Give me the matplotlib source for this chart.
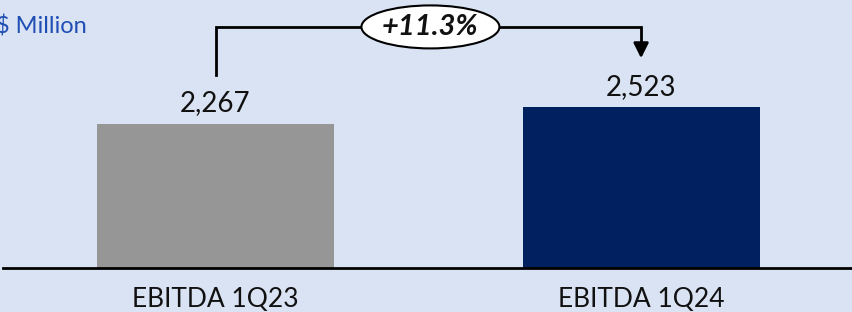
import matplotlib.pyplot as plt
from matplotlib.patches import Ellipse
from matplotlib.transforms import ScaledTranslation

categories = ["EBITDA 1Q23", "EBITDA 1Q24"]
values = [2267, 2523]
bar_colors = ["#969696", "#002060"]
growth_label = "+11.3%"
unit_label = "$ Million"

plt.rcParams['font.family'] = ['Lato', 'DejaVu Sans']

bg = "#DAE3F3"
fig = plt.figure(figsize=(8.53, 3.12), dpi=100, facecolor=bg)
ax = fig.add_axes([0, 44 / 312, 1, 268 / 312])
ax.set_facecolor(bg)

x = list(range(len(categories)))
ax.bar(x, values, width=0.557, color=bar_colors, zorder=2)
ax.set_xlim(-0.5065, 1.498)
ax.set_ylim(0, 4207)

for xi, v in zip(x, values):
    ax.annotate(f"{v:,}", (xi, v), xytext=(0, 9), textcoords="offset points",
                ha="center", va="baseline", fontsize=20, color="#111111")

# baseline
ax.axhline(0, xmin=0.003, xmax=1, color="black", lw=2, zorder=3, clip_on=False)
for s in ax.spines.values():
    s.set_visible(False)
ax.set_yticks([])
ax.set_xticks(x)
ax.set_xticklabels(categories, fontsize=19, color="#111111")
ax.tick_params(axis="x", length=0, pad=14)

# growth bracket
top = max(values) * 1.5
ax.plot([0, 0, 1, 1], [values[0] + 765, top, top, values[1] + 960],
        color="black", lw=2, solid_joinstyle="miter", zorder=4, clip_on=False)
ax.annotate("", xy=(1, values[1] + 770), xytext=(1, values[1] + 1000),
            arrowprops=dict(arrowstyle="-|>,head_length=0.9,head_width=0.45",
                            color="black", lw=2, shrinkA=0, shrinkB=0))
cx = 0.505
trans = fig.dpi_scale_trans + ScaledTranslation(cx, top, ax.transData)
ax.add_patch(Ellipse((0, 0), 1.38, 0.43, transform=trans, fc="white",
                     ec="black", lw=1.5, zorder=5, clip_on=False))
ax.text(cx, top, growth_label, ha="center", va="center", fontsize=21,
        fontweight="bold", fontstyle="italic", color="#111111", zorder=6)

fig.text(-4 / 853, (312 - 33) / 312, unit_label, fontsize=17, color="#1F4EB4",
         ha="left", va="baseline")

fig.savefig("out.png", dpi=100, facecolor=bg)
